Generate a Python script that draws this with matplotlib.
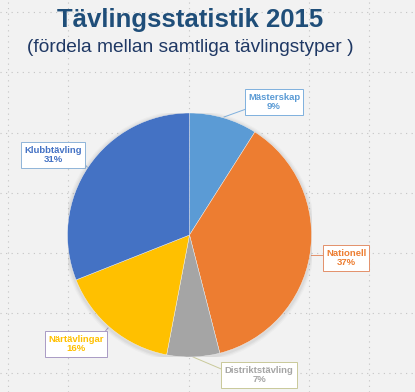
import matplotlib.pyplot as plt
from matplotlib.patches import Circle

plt.rcParams['font.family'] = ['Liberation Sans', 'DejaVu Sans']

categories = ['Mästerskap', 'Nationell', 'Distriktstävling', 'Närtävlingar', 'Klubbtävling']
shares = [9, 37, 7, 16, 31]
colors = ['#5b9bd5', '#ed7d31', '#a5a5a5', '#ffc000', '#4472c4']
box_edges = ['#7fb0de', '#e3906a', '#c9c99a', '#a99bc4', '#8fb4d9']

# label box centres and leader end points (pixels, from top-left)
label_pos = [(274, 102), (346, 258), (259, 375), (76, 344), (53, 155)]
leader_from = [(249, 108), (326, 255), (226, 371), (103, 334), (81, 160)]
leader_to = [(224, 117), (311, 255), (193, 357), (108, 328), (88, 168)]

W, H = 415, 392
fig = plt.figure(figsize=(W / 100, H / 100), dpi=100)
fig.patch.set_facecolor('#f2f2f2')

# background with dotted guide grid, pixel coordinates
bg = fig.add_axes([0, 0, 1, 1])
bg.set_xlim(0, W)
bg.set_ylim(H, 0)
bg.axis('off')
for x in [8, 68, 189, 309, 369]:
    bg.axvline(x, color='#c4c4c4', lw=0.8, ls=(0, (1, 4)), zorder=0)
for y in [12, 72, 133, 193, 253, 313, 373]:
    bg.axhline(y, color='#c4c4c4', lw=0.8, ls=(0, (1, 4)), zorder=0)

bg.text(190, 20, 'Tävlingsstatistik 2015', ha='center', va='center',
        fontsize=18.5, fontweight='bold', color='#1f4e79')
bg.text(190, 47, '(fördela mellan samtliga tävlingstyper )', ha='center', va='center',
        fontsize=13.8, color='#1f3864')

# pie axes
cx, cy, r = 189.5, 235, 122
ax = fig.add_axes([(cx - r) / W, (H - cy - r) / H, 2 * r / W, 2 * r / H])
ax.set_xlim(-1, 1)
ax.set_ylim(-1, 1)
ax.set_aspect('equal')
ax.axis('off')

# soft shadow
for k, a in zip([1.035, 1.025, 1.015], [0.05, 0.07, 0.09]):
    ax.add_patch(Circle((0.0, -0.01), k, color='#7f7f7f', alpha=a, lw=0, zorder=0))

ax.pie(shares, colors=colors, startangle=90, counterclock=False, radius=1,
       wedgeprops=dict(linewidth=0.3, edgecolor='#f2f2f2'))
ax.set_xlim(-1, 1)
ax.set_ylim(-1, 1)

for name, val, col, ec, pos, p0, p1 in zip(categories, shares, colors, box_edges,
                                            label_pos, leader_from, leader_to):
    bg.plot([p0[0], p1[0]], [p0[1], p1[1]], color=ec, lw=0.7, zorder=3)
    bg.text(pos[0], pos[1], f'{name}\n{val}%', ha='center', va='center',
            fontsize=6.8, fontweight='bold', color=col, linespacing=1.1, zorder=4,
            bbox=dict(boxstyle='square,pad=0.35', fc='white', ec=ec, lw=0.7))

fig.savefig('out.png', dpi=100, facecolor=fig.get_facecolor())
